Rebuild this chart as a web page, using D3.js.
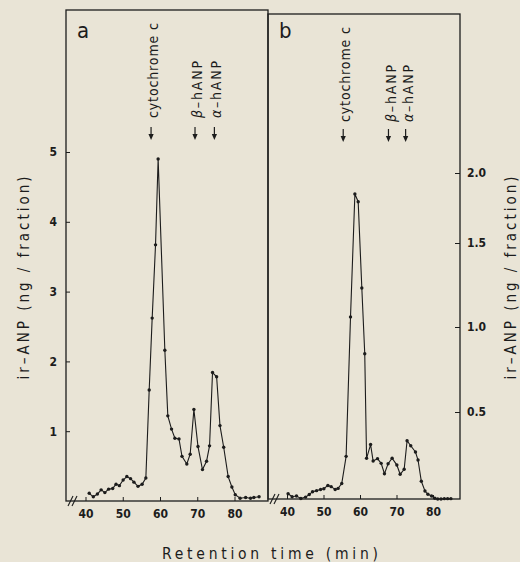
<!DOCTYPE html>
<html>
<head>
<meta charset="utf-8">
<script src="https://cdn.jsdelivr.net/npm/d3@7"></script>
<style>
  html, body { margin: 0; padding: 0; background: #e9e4d6; }
  svg { display: block; }
  text { fill: #1c1c1c; font-family: "Liberation Sans Narrow", "DejaVu Sans Condensed", sans-serif; }
  .tick text { font-size: 12px; font-weight: bold; }
</style>
</head>
<body>
<script>
// retention time (min) and ir-ANP per fraction, panel a (ng / fraction)
const timeA = [41.0, 42.1, 43.2, 44.2, 45.2, 46.2, 47.3, 48.2, 49.1, 50.1, 51.1, 52.1, 53.0, 54.1, 55.2,
  56.2, 57.1, 57.9, 58.8, 59.5, 61.3, 62.1, 63.1, 64.0, 65.1, 65.9, 67.2, 68.1, 69.1, 70.2, 71.4,
  72.5, 73.3, 74.1, 75.2, 76.1, 77.1, 78.3, 79.3, 80.2, 81.5, 83.0, 84.3, 85.2, 86.6];
const valueA = [0.11, 0.06, 0.10, 0.16, 0.12, 0.17, 0.18, 0.24, 0.22, 0.30, 0.35, 0.32, 0.27, 0.21, 0.24,
  0.33, 1.59, 2.62, 3.67, 4.90, 2.16, 1.22, 1.03, 0.90, 0.89, 0.64, 0.53, 0.67, 1.31, 0.78, 0.45,
  0.57, 0.79, 1.84, 1.78, 1.08, 0.77, 0.35, 0.20, 0.09, 0.04, 0.05, 0.04, 0.05, 0.06];

// panel b
const timeB = [40.3, 41.4, 42.6, 43.8, 45.1, 46.1, 47.0, 48.1, 49.2, 50.1, 51.2, 52.1, 53.2, 54.0, 55.0,
  56.2, 57.4, 58.6, 59.5, 60.5, 61.3, 61.8, 62.9, 63.6, 64.8, 65.8, 66.7, 67.7, 68.8, 70.1, 71.0,
  72.1, 72.9, 73.9, 75.2, 75.9, 76.8, 77.8, 78.6, 79.6, 80.5, 81.3, 82.2, 83.1, 84.0, 84.9];
const valueB = [0.03, 0.013, 0.017, 0.003, 0.011, 0.026, 0.042, 0.048, 0.055, 0.059, 0.078, 0.071, 0.055, 0.061, 0.089,
  0.245, 1.06, 1.85, 1.795, 1.232, 0.843, 0.234, 0.313, 0.218, 0.232, 0.205, 0.145, 0.203, 0.234, 0.195, 0.142,
  0.171, 0.335, 0.306, 0.27, 0.224, 0.102, 0.046, 0.027, 0.017, 0.004, 0.0, 0.0, 0.002, 0.002, 0.002];

const xTicks = [40, 50, 60, 70, 80];
const yTicksA = [1, 2, 3, 4, 5];
const yTicksB = [0.5, 1.0, 1.5, 2.0];

const markerNames = ['cytochrome c', 'β', 'α'];
const markerTimesA = [57.6, 69.4, 74.6];
const markerTimesB = [55.4, 67.8, 72.5];

const width = 520, height = 562;
const ink = '#1c1c1c';

const svg = d3.select('body').append('svg')
  .attr('width', width).attr('height', height);

// scales
const xa = d3.scaleLinear().domain([40, 80]).range([85.5, 234.5]);
const ya = d3.scaleLinear().domain([0, 5]).range([501, 152]);
const xb = d3.scaleLinear().domain([40, 80]).range([287, 433]);
// the printed right axis is not quite even, follow its ticks
const yb = d3.scaleLinear().domain([0, 0.5, 1, 1.5, 2]).range([499, 412, 327, 243, 173]);

const panels = [
  {id: 'a', x: xa, y: ya, t: timeA, v: valueA, left: 66, right: 268, top: 10, bottom: 501, marks: markerTimesA, textBottom: 118, arrowBottom: 140},
  {id: 'b', x: xb, y: yb, t: timeB, v: valueB, left: 268, right: 460, top: 14, bottom: 499, marks: markerTimesB, textBottom: 122, arrowBottom: 142}
];

panels.forEach(p => {
  const g = svg.append('g');

  // frame
  g.append('rect')
    .attr('x', p.left).attr('y', p.top)
    .attr('width', p.right - p.left).attr('height', p.bottom - p.top)
    .attr('fill', 'none').attr('stroke', ink).attr('stroke-width', 1.3);

  // axis break marks
  [0, 4].forEach(dx => {
    g.append('line')
      .attr('x1', p.left + 2 + dx).attr('y1', p.bottom + 5)
      .attr('x2', p.left + 7 + dx).attr('y2', p.bottom - 5)
      .attr('stroke', ink).attr('stroke-width', 1.1);
  });

  // x axis
  const xAxis = g.append('g')
    .attr('transform', `translate(0,${p.bottom})`)
    .call(d3.axisBottom(p.x).tickValues(xTicks).tickSizeInner(-4).tickSizeOuter(0).tickPadding(8));
  xAxis.select('.domain').remove();
  xAxis.selectAll('line').attr('stroke', ink);

  // panel letter
  g.append('text')
    .attr('x', p.left + 11).attr('y', 38)
    .attr('font-size', 22)
    .text(p.id);

  // line + points
  const pts = p.t.map((t, i) => [t, p.v[i]]);
  const line = d3.line().x(d => p.x(d[0])).y(d => p.y(d[1]));
  g.append('path')
    .datum(pts)
    .attr('d', line)
    .attr('fill', 'none').attr('stroke', ink).attr('stroke-width', 1.1);
  g.selectAll('circle')
    .data(pts)
    .enter().append('circle')
      .attr('cx', d => p.x(d[0]))
      .attr('cy', d => p.y(d[1]))
      .attr('r', 1.7)
      .attr('fill', ink);

  // marker labels and arrows
  p.marks.forEach((t, i) => {
    const mx = p.x(t);
    const lbl = g.append('text')
      .attr('transform', `translate(${mx + 2},${p.textBottom}) rotate(-90)`)
      .attr('dy', '0.36em')
      .attr('font-size', 14)
      .attr('textLength', i === 0 ? 95 : 57)
      .attr('lengthAdjust', 'spacing');
    if (i === 0) {
      lbl.text(markerNames[i]);
    } else {
      lbl.append('tspan').attr('font-style', 'italic').text(markerNames[i]);
      lbl.append('tspan').text('–hANP');
    }
    const ab = p.arrowBottom;
    g.append('line')
      .attr('x1', mx).attr('y1', ab - 13)
      .attr('x2', mx).attr('y2', ab - 5)
      .attr('stroke', ink).attr('stroke-width', 1.2);
    g.append('path')
      .attr('d', `M${mx - 2.6},${ab - 6}L${mx + 2.6},${ab - 6}L${mx},${ab}Z`)
      .attr('fill', ink);
  });
});

// left y axis (panel a)
const yAxisA = svg.append('g')
  .attr('transform', 'translate(66,0)')
  .call(d3.axisLeft(ya).tickValues(yTicksA).tickFormat(d3.format('d')).tickSizeInner(-4).tickSizeOuter(0).tickPadding(9));
yAxisA.select('.domain').remove();
yAxisA.selectAll('line').attr('stroke', ink);

// right y axis (panel b)
const yAxisB = svg.append('g')
  .attr('transform', 'translate(460,0)')
  .call(d3.axisRight(yb).tickValues(yTicksB).tickFormat(d3.format('.1f')).tickSizeInner(-5).tickSizeOuter(0).tickPadding(7));
yAxisB.select('.domain').remove();
yAxisB.selectAll('line').attr('stroke', ink);

// axis titles
const yTitle = 'ir–ANP  (ng / fraction)';
[24, 511].forEach(cx => {
  svg.append('text')
    .attr('transform', `translate(${cx},278) rotate(-90)`)
    .attr('text-anchor', 'middle')
    .attr('dy', '0.36em')
    .attr('font-size', 15)
    .attr('textLength', 203)
    .attr('lengthAdjust', 'spacing')
    .text(yTitle);
});

svg.append('text')
  .attr('x', 270).attr('y', 559)
  .attr('text-anchor', 'middle')
  .attr('font-size', 15.5)
  .attr('textLength', 216)
  .attr('lengthAdjust', 'spacing')
  .text('Retention  time   (min)');
</script>
</body>
</html>
